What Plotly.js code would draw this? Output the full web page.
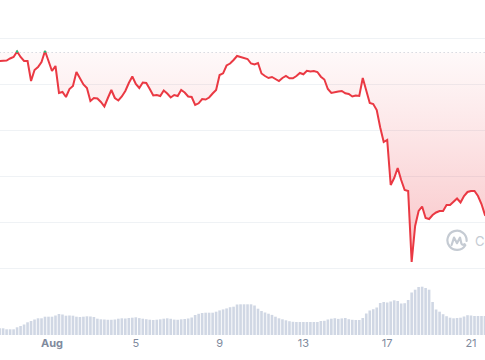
<!DOCTYPE html>
<html>
<head>
<meta charset="utf-8">
<script src="https://cdn.plot.ly/plotly-3.0.1.min.js"></script>
<style>html,body{margin:0;padding:0;background:#fff}#chart{width:485px;height:360px}</style>
</head>
<body>
<div id="chart"></div>
<script>
// x axis ticks (day of August)
const tickDays = [1, 5, 9, 13, 17, 21];
const tickLabels = ['<b>Aug</b>', '5', '9', '13', '17', '21'];
// 4-hour samples starting 29 Jul 12:00 (day -1.5 of August)
const startDay = -1.5;
const stepDay = 1 / 6;
// reference (open) price shown by the dotted line
const openPrice = 282.5;
// price (arbitrary units)
const price = [
  274,274,274.5,276.5,278,283.5,278,274,274,254,
  265,268,273,284,275,264,269,242,243,238,
  246,249,263,257,250.5,247,234,237,236.5,233,
  228.5,237,245,237,234.5,238.5,244,252,258.5,251,
  247,252.5,252,246,239.5,240,239,244.5,241.5,237.5,
  240,239,245,242.5,238.5,238,230,231.7,236,235.5,
  237.5,241.5,245,260,261.7,269.5,271.5,275,279,278,
  277,276,271.5,270.5,272,261.5,259,257,258,256,
  254,257,259,256.7,256.7,259,262,260.7,264.2,263.5,
  264,263,258.3,255.5,246,242,243,243.5,244,241.7,
  241,238.5,239.5,239,257,245,232,231,225,207.5,
  193,195,150,157,167,155,145,144,73,109,
  124,128.5,117,116,120,122.5,124,124,130,130,
  133.5,136.5,132.5,139,143,144,144,139,131,120,
  118
];
// volume (arbitrary units)
const volume = [
  6.7,6.7,5.7,5.7,5.7,7.7,9,10.5,12.7,14,
  15.5,16.7,16.7,18.3,18.3,18.3,19.5,21,20.5,19.3,
  19.5,19.3,18.3,18,18.3,18.7,18.5,18,16.3,15.7,
  15.5,15.2,15.2,15.5,16.3,16.7,16.5,17,17.3,17.7,
  16.9,16.3,15.8,15.3,15,15.3,15.7,16.3,16.7,16.2,
  15.4,15.2,15.7,16,16.5,17.5,20,21.2,22,22.3,
  22.3,22.3,23.3,24.6,25.6,26.6,27.8,28.3,30.5,30.7,
  30.7,30.7,30.7,29.5,26.3,24,22.5,21.3,20.1,18.3,
  16.7,15.7,14.7,13.8,13.2,13,13,13,13,13,
  13,13,14,14.2,15.5,16.3,16.8,16.1,16.6,17,
  15.8,15.2,15,15,17,21.5,24.5,25.8,27.5,32,
  33,32.5,33.5,34.7,34,31.5,31.8,35,42.5,45.3,
  48,48.3,47,45.3,33,25.5,23.3,20.8,18.8,17.3,
  16.7,17,17.3,18.5,19.8,19.5,19,19,19,19,
  19
];
const gridVals = [67, 113, 159, 205, 251, 297];

const time = price.map((_, i) => startDay + i * stepDay);

// green segments where price is above the open price
const gx = [], gy = [];
for (let i = 0; i < price.length; i++) {
  const above = price[i] >= openPrice;
  if (i > 0) {
    const prevAbove = price[i - 1] >= openPrice;
    if (prevAbove !== above) {
      const t = (openPrice - price[i - 1]) / (price[i] - price[i - 1]);
      gx.push(time[i - 1] + t * (time[i] - time[i - 1]));
      gy.push(openPrice);
      if (!above) { gx.push(null); gy.push(null); }
    }
  }
  if (above) { gx.push(time[i]); gy.push(price[i]); }
}

const traces = [
  {
    type: 'bar', x: time, y: volume, yaxis: 'y2',
    marker: {color: 'rgba(190,199,218,0.72)', line: {width: 0}},
    hoverinfo: 'skip'
  },
  {
    type: 'scatter', mode: 'lines', x: time, y: time.map(() => openPrice),
    line: {color: '#c3c8d2', width: 1, dash: '1px,3px'}, hoverinfo: 'skip'
  },
  {
    type: 'scatter', mode: 'lines', x: time, y: price,
    line: {color: '#ea3943', width: 2},
    fill: 'tonexty',
    fillgradient: {
      type: 'vertical', start: 73, stop: openPrice,
      colorscale: [[0, 'rgba(234,57,67,0.30)'], [0.6, 'rgba(234,57,67,0.13)'], [1, 'rgba(234,57,67,0.03)']]
    },
    hoverinfo: 'skip'
  },
  {
    type: 'scatter', mode: 'lines', x: gx, y: gy, connectgaps: false,
    line: {color: '#16c784', width: 2}, hoverinfo: 'skip'
  }
];

const logo = "data:image/svg+xml;utf8," + encodeURIComponent(
  "<svg xmlns='http://www.w3.org/2000/svg' width='24' height='24' viewBox='0 0 24 24'>" +
  "<path d='M20.3 16.2 A9.6 9.6 0 1 1 21.6 12' fill='none' stroke='#c5cbd3' stroke-width='2.2' stroke-linecap='round'/>" +
  "<path d='M6.6 16 L9 8.6 L12 14.2 L15 8.6 L16.4 14.6 Q17.4 16.6 19.6 15.2' fill='none' stroke='#c5cbd3' stroke-width='2.2' stroke-linecap='round' stroke-linejoin='round'/>" +
  "</svg>");

const layout = {
  width: 485, height: 360,
  margin: {l: 0, r: 0, t: 0, b: 25, pad: 0},
  paper_bgcolor: '#ffffff', plot_bgcolor: '#ffffff',
  showlegend: false,
  bargap: 0.25,
  font: {family: 'Inter, "Noto Sans", sans-serif'},
  xaxis: {
    range: [-1.482, 21.668], tickvals: tickDays, ticktext: tickLabels,
    showgrid: false, zeroline: false, showline: false, ticks: '',
    tickfont: {family: 'Inter, sans-serif', size: 11, color: '#808a9d'},
    automargin: false, fixedrange: true
  },
  yaxis: {
    range: [0, 335], tickvals: gridVals, showgrid: true, gridcolor: '#eff2f5', gridwidth: 1,
    zeroline: false, showticklabels: false, ticks: '', automargin: false, fixedrange: true
  },
  yaxis2: {
    range: [0, 335], overlaying: 'y', showgrid: false, zeroline: false,
    showticklabels: false, ticks: '', automargin: false, fixedrange: true
  },
  images: [{
    source: logo, xref: 'paper', yref: 'paper',
    x: 445 / 485, y: 1 - 229 / 335, sizex: 24 / 485, sizey: 24 / 335,
    xanchor: 'left', yanchor: 'top', sizing: 'stretch', layer: 'above'
  }],
  annotations: [{
    text: 'CoinMarketCap', xref: 'paper', yref: 'paper',
    x: 473 / 485, y: 1 - 241 / 335, xanchor: 'left', yanchor: 'middle',
    showarrow: false, font: {family: 'Inter, sans-serif', size: 13, color: '#c5cbd3'}
  }]
};

Plotly.newPlot('chart', traces, layout, {staticPlot: true, displayModeBar: false});
</script>
</body>
</html>
